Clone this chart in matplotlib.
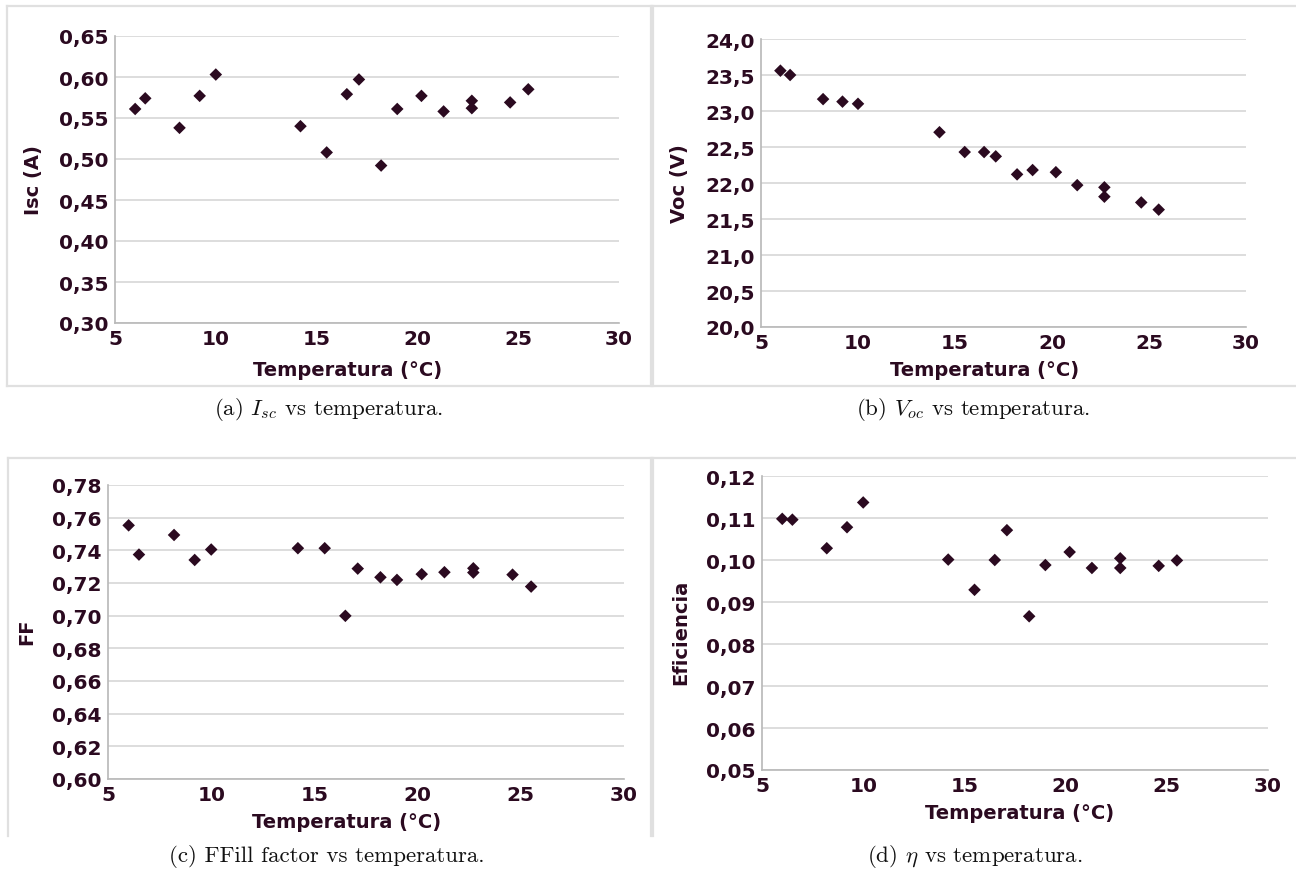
import matplotlib
matplotlib.use("Agg")
import matplotlib.pyplot as plt
from matplotlib.lines import Line2D
from matplotlib.ticker import FixedLocator, FuncFormatter

plt.rcParams['mathtext.fontset'] = 'cm'

# ---- data ----
temperatura = [6.0, 6.5, 8.2, 9.2, 10.0, 14.2, 15.5, 16.5, 17.1, 18.2,
               19.0, 20.2, 21.3, 22.7, 22.7, 24.6, 25.5]
isc = [0.561, 0.574, 0.538, 0.577, 0.603, 0.540, 0.508, 0.579, 0.597, 0.492,
       0.561, 0.577, 0.558, 0.571, 0.562, 0.569, 0.585]
voc = [23.56, 23.50, 23.165, 23.13, 23.10, 22.705, 22.43, 22.43, 22.37, 22.12,
       22.18, 22.15, 21.97, 21.94, 21.81, 21.73, 21.63]
ff = [0.7553, 0.7374, 0.7494, 0.7341, 0.7405, 0.7413, 0.7413, 0.6999, 0.7288, 0.7235,
      0.7219, 0.7254, 0.7266, 0.7290, 0.7264, 0.7251, 0.7178]
eficiencia = [0.1098, 0.1096, 0.1028, 0.1078, 0.1137, 0.1001, 0.0929, 0.1000, 0.1071, 0.0866,
              0.0988, 0.1019, 0.0981, 0.1004, 0.0981, 0.0986, 0.0999]

x_ticks = [5, 10, 15, 20, 25, 30]
isc_ticks = [0.30, 0.35, 0.40, 0.45, 0.50, 0.55, 0.60, 0.65]
voc_ticks = [20.0, 20.5, 21.0, 21.5, 22.0, 22.5, 23.0, 23.5, 24.0]
ff_ticks = [0.60, 0.62, 0.64, 0.66, 0.68, 0.70, 0.72, 0.74, 0.76, 0.78]
ef_ticks = [0.05, 0.06, 0.07, 0.08, 0.09, 0.10, 0.11, 0.12]

x_label = "Temperatura (°C)"
y_labels = ["Isc (A)", "Voc (V)", "FF", "Eficiencia"]
captions = ["(a) $I_{sc}$ vs temperatura.", "(b) $V_{oc}$ vs temperatura.",
            "(c) FFill factor vs temperatura.", "(d) $\\eta$ vs temperatura."]

# ---- style ----
W, H = 1296, 870
DARK = '#2b0a20'
GRID = '#dadada'
SPINE = '#b8b8b8'
BOX = '#e0e0e0'

fig = plt.figure(figsize=(W / 100, H / 100), dpi=100)

def px_axes(l, r, t, b):
    return [l / W, 1 - b / H, (r - l) / W, (b - t) / H]

panels = [
    dict(rect=px_axes(115, 619, 37, 324), y=isc, ticks=isc_ticks, fmt="{:.2f}",
         xl=(348, 370), yl=(33, 180), cap=(329, 410)),
    dict(rect=px_axes(761, 1246, 40, 328), y=voc, ticks=voc_ticks, fmt="{:.1f}",
         xl=(985, 370), yl=(680, 184), cap=(973, 410)),
    dict(rect=px_axes(108, 624, 486, 780), y=ff, ticks=ff_ticks, fmt="{:.2f}",
         xl=(347, 823), yl=(27, 632), cap=(327, 857)),
    dict(rect=px_axes(762, 1268, 477, 771), y=eficiencia, ticks=ef_ticks, fmt="{:.2f}",
         xl=(1020, 814), yl=(681, 632), cap=(975, 857)),
]

for i, p in enumerate(panels):
    ax = fig.add_axes(p['rect'])
    ax.scatter(temperatura, p['y'], marker='D', s=6.4 ** 2, color=DARK,
               edgecolors='none', zorder=3, clip_on=False)
    ax.set_xlim(x_ticks[0], x_ticks[-1])
    ax.set_ylim(p['ticks'][0], p['ticks'][-1])
    ax.xaxis.set_major_locator(FixedLocator(x_ticks))
    ax.yaxis.set_major_locator(FixedLocator(p['ticks']))
    fmt = p['fmt']
    ax.yaxis.set_major_formatter(FuncFormatter(lambda v, pos, f=fmt: f.format(v).replace('.', ',')))
    ax.xaxis.set_major_formatter(FuncFormatter(lambda v, pos: "{:d}".format(int(round(v)))))
    ax.grid(axis='y', color=GRID, linewidth=1.3, zorder=0)
    ax.set_axisbelow(True)
    for s in ['top', 'right']:
        ax.spines[s].set_visible(False)
    for s in ['left', 'bottom']:
        ax.spines[s].set_color(SPINE)
        ax.spines[s].set_linewidth(1.2)
    ax.tick_params(length=0, labelsize=14.5, colors=DARK, pad=4.5)
    for lab in ax.get_xticklabels() + ax.get_yticklabels():
        lab.set_fontweight('bold')
    ax.set_facecolor('none')
    # axis labels (figure pixel positions)
    fig.text(p['xl'][0] / W, 1 - p['xl'][1] / H, x_label, ha='center', va='center',
             fontsize=14, fontweight='bold', color=DARK)
    fig.text(p['yl'][0] / W, 1 - p['yl'][1] / H, y_labels[i], ha='center', va='center',
             rotation=90, fontsize=14, fontweight='bold', color=DARK)
    fig.text(p['cap'][0] / W, 1 - p['cap'][1] / H, captions[i], ha='center', va='center',
             fontsize=16.5, family='cmr10', color='#111111')

# panel frames
def hline(x0, x1, y):
    fig.add_artist(Line2D([x0 / W, x1 / W], [1 - y / H, 1 - y / H], color=BOX, lw=1.6))

def vline(x, y0, y1):
    fig.add_artist(Line2D([x / W, x / W], [1 - y0 / H, 1 - y1 / H], color=BOX, lw=1.6))

hline(7, 651, 7); vline(7, 7, 387); vline(651, 7, 387); hline(7, 651, 387)
hline(653, 1296, 7); vline(653, 7, 387); hline(653, 1296, 387)
hline(8, 651, 459); vline(8, 459, 837); vline(651, 459, 837)
hline(653, 1296, 459); vline(653, 459, 837)

fig.savefig("out.png", dpi=100)
